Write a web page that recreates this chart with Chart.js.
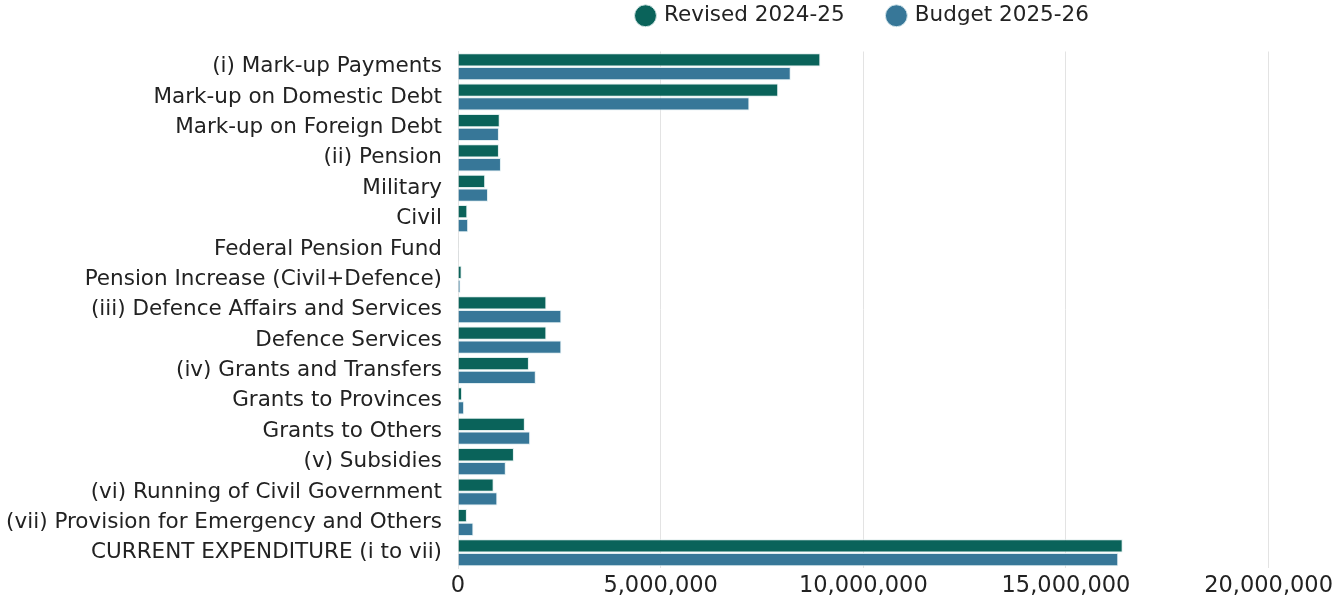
<!DOCTYPE html>
<html>
<head>
<meta charset="utf-8">
<script src="https://cdn.jsdelivr.net/npm/chart.js@4/dist/chart.umd.min.js"></script>
<style>
  html, body { margin: 0; padding: 0; background: #fff; }
  #wrap { width: 1338px; height: 600px; }
</style>
</head>
<body>
<div id="wrap"><canvas id="expChart"></canvas></div>
<script>
const categories = [
    '(i) Mark-up Payments',
    'Mark-up on Domestic Debt',
    'Mark-up on Foreign Debt',
    '(ii) Pension',
    'Military',
    'Civil',
    'Federal Pension Fund',
    'Pension Increase (Civil+Defence)',
    '(iii) Defence Affairs and Services',
    'Defence Services',
    '(iv) Grants and Transfers',
    'Grants to Provinces',
    'Grants to Others',
    '(v) Subsidies',
    '(vi) Running of Civil Government',
    '(vii) Provision for Emergency and Others',
    'CURRENT EXPENDITURE (i to vii)'
];

const revised2425 = [
    8940000, 7900000, 1030000, 1010000, 670000, 230000, 8000, 90000,
    2180000, 2180000, 1750000, 100000, 1650000, 1380000, 880000, 220000, 16400000
];

const budget2526 = [
    8210000, 7190000, 1010000, 1060000, 740000, 250000, 6000, 60000,
    2550000, 2550000, 1920000, 150000, 1780000, 1180000, 970000, 380000, 16290000
];

const xTicks = [0, 5000000, 10000000, 15000000, 20000000];

Chart.defaults.font.family = '"DejaVu Sans", sans-serif';
Chart.defaults.font.size = 21.5;
Chart.defaults.color = '#222';

// legend labels.padding sets the gap between items, this adds room below the legend
const legendGap = {
    id: 'legendGap',
    afterInit(chart) {
        const legend = chart.legend;
        const fit = legend.fit;
        legend.fit = function () {
            fit.call(this);
            this.height += 15;
        };
    }
};

new Chart('expChart', {
    type: 'bar',
    data: {
        labels: categories,
        datasets: [{
            label: 'Revised 2024-25',
            data: revised2425,
            backgroundColor: '#0a635a',
            borderColor: 'rgba(220,235,235,0.9)',
            borderWidth: 1
        }, {
            label: 'Budget 2025-26',
            data: budget2526,
            backgroundColor: '#377798',
            borderColor: 'rgba(220,235,240,0.9)',
            borderWidth: 1
        }]
    },
    plugins: [legendGap],
    options: {
        indexAxis: 'y',
        responsive: true,
        maintainAspectRatio: false,
        animation: false,
        layout: { padding: { top: -39, right: 63, bottom: 0, left: 0 } },
        datasets: {
            bar: { barPercentage: 0.96, categoryPercentage: 0.91 }
        },
        plugins: {
            legend: {
                position: 'top',
                fullSize: false,
                labels: {
                    usePointStyle: true,
                    pointStyle: 'circle',
                    boxWidth: 15.5,
                    boxHeight: 15.5,
                    padding: 44,
                    color: '#222'
                }
            },
            tooltip: { enabled: false }
        },
        scales: {
            x: {
                min: 0,
                max: 20000000,
                afterBuildTicks: function (axis) {
                    axis.ticks = xTicks.map(v => ({ value: v }));
                },
                afterFit: function (axis) { axis.height = 32; },
                ticks: {
                    color: '#222',
                    padding: 5,
                    font: { size: 22.5 },
                    callback: function (value) { return value.toLocaleString('en-US'); }
                },
                grid: { color: '#e3e3e3', drawTicks: false },
                border: { display: false }
            },
            y: {
                afterFit: function (axis) { axis.width = 458; },
                ticks: { color: '#222', padding: 16, autoSkip: false },
                grid: { display: false, drawTicks: false },
                border: { display: true, color: '#e3e3e3' }
            }
        }
    }
});
</script>
</body>
</html>
